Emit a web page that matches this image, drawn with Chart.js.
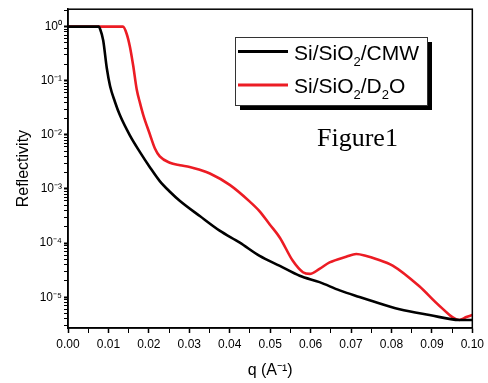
<!DOCTYPE html>
<html>
<head>
<meta charset="utf-8">
<script src="https://cdn.jsdelivr.net/npm/chart.js@4.4.0/dist/chart.umd.min.js"></script>
<style>
  html, body { margin: 0; padding: 0; background: #fff; }
  #wrap { width: 488px; height: 383px; }
</style>
</head>
<body>
<div id="wrap"><canvas id="refl" width="488" height="383"></canvas></div>
<script>
// Si/SiO2/CMW (black)
const qBlack = [0, 0.00765, 0.0079, 0.0087, 0.0096, 0.0104, 0.0116, 0.0128, 0.0153, 0.0178, 0.0202,
    0.0227, 0.0252, 0.0277, 0.0326, 0.0375, 0.0425, 0.0474, 0.0524, 0.0573, 0.0622, 0.0672, 0.0721,
    0.0746, 0.0820, 0.0894, 0.0968, 0.1];
const rBlack = [1, 1, 0.92, 0.56, 0.17, 0.08, 0.041, 0.0235, 9.8e-3, 4.8e-3, 2.56e-3,
    1.4e-3, 8.9e-4, 6.0e-4, 3.16e-4, 1.7e-4, 1.02e-4, 5.8e-5, 3.8e-5, 2.5e-5, 1.9e-5, 1.34e-5, 1.01e-5,
    8.8e-6, 6.0e-6, 4.7e-6, 3.8e-6, 3.8e-6];

// Si/SiO2/D2O (red)
const qRed = [0, 0.0136, 0.0145, 0.0153, 0.0161, 0.0170, 0.0178, 0.0186, 0.0202, 0.0215, 0.0227,
    0.0252, 0.0277, 0.0301, 0.0326, 0.0351, 0.0400, 0.0449, 0.0474, 0.0499, 0.0524, 0.0556, 0.0581,
    0.0598, 0.0622, 0.0647, 0.0688, 0.0713, 0.0738, 0.0762, 0.0803, 0.0869, 0.0919, 0.0968,
    0.0985, 0.1];
const rRed = [1, 1, 0.74, 0.43, 0.195, 0.069, 0.039, 0.0235, 0.0105, 5.6e-3, 4.0e-3,
    3.05e-3, 2.75e-3, 2.56e-3, 2.26e-3, 1.93e-3, 1.19e-3, 5.9e-4, 3.87e-4, 2.21e-4, 1.26e-4, 4.7e-5, 2.9e-5,
    2.7e-5, 3.34e-5, 4.4e-5, 5.6e-5, 6.3e-5, 5.8e-5, 5.1e-5, 3.84e-5, 1.59e-5, 6.9e-6, 3.8e-6,
    4.3e-6, 4.7e-6];

// axis ticks
const yDecades = [-6, -5, -4, -3, -2, -1, 0];
const yMinorSteps = [2, 3, 4, 5, 6, 7, 8, 9];
const yMin = 2.7e-6, yMax = 2.1;
const xMin = 0, xMax = 0.1, xStep = 0.005;

const seriesNames = [['Si/SiO', '2', '/CMW'], ['Si/SiO', '2', '/D', '2', 'O']];
const seriesColors = ['#000000', '#ec1c24'];

const sup = { '0': '\u2070', '1': '\u00b9', '2': '\u00b2', '3': '\u00b3', '4': '\u2074',
    '5': '\u2075', '6': '\u2076', '7': '\u2077', '8': '\u2078', '9': '\u2079', '-': '\u207b' };
const toSup = s => String(s).split('').map(c => sup[c] || c).join('');

const toPoints = (qs, rs) => qs.map((q, i) => ({ x: q, y: rs[i] }));

function isDecade(v) {
    const l = Math.log10(v);
    return Math.abs(l - Math.round(l)) < 1e-9;
}

// frame, legend and caption
const extras = {
    id: 'extras',
    afterDraw(chart) {
        const ctx = chart.ctx;
        const a = chart.chartArea;
        ctx.save();
        ctx.strokeStyle = '#000';
        ctx.lineWidth = 1.5;
        ctx.strokeRect(a.left, a.top, a.right - a.left, a.bottom - a.top);

        // legend box with drop shadow
        const bx = 235, by = 37, bw = 192, bh = 68;
        ctx.fillStyle = '#000';
        ctx.fillRect(bx + 5, by + 5, bw, bh);
        ctx.fillStyle = '#fff';
        ctx.fillRect(bx, by, bw, bh);
        ctx.strokeStyle = '#333';
        ctx.lineWidth = 1;
        ctx.strokeRect(bx + 0.5, by + 0.5, bw, bh);

        const rows = [51.5, 85];
        seriesNames.forEach((parts, i) => {
            const y = rows[i];
            ctx.strokeStyle = seriesColors[i];
            ctx.lineWidth = 3;
            ctx.beginPath();
            ctx.moveTo(238, y);
            ctx.lineTo(288, y);
            ctx.stroke();

            let x = 294;
            const base = y + 8;
            ctx.fillStyle = '#000';
            ctx.textBaseline = 'alphabetic';
            ctx.textAlign = 'left';
            parts.forEach((p, j) => {
                if (j % 2 === 1) {
                    ctx.font = '13px "Liberation Sans", Arial, sans-serif';
                    ctx.fillText(p, x, base + 6);
                } else {
                    ctx.font = '21px "Liberation Sans", Arial, sans-serif';
                    ctx.fillText(p, x, base);
                }
                x += ctx.measureText(p).width;
            });
        });

        ctx.font = '26px "Liberation Serif", "Times New Roman", serif';
        ctx.fillStyle = '#000';
        ctx.fillText('Figure1', 317, 146);
        ctx.restore();
    }
};

new Chart(document.getElementById('refl'), {
    type: 'line',
    data: {
        datasets: [
            {
                label: 'Si/SiO2/CMW',
                data: toPoints(qBlack, rBlack),
                borderColor: seriesColors[0],
                borderWidth: 2.6,
                pointRadius: 0,
                cubicInterpolationMode: 'monotone',
                fill: false
            },
            {
                label: 'Si/SiO2/D2O',
                data: toPoints(qRed, rRed),
                borderColor: seriesColors[1],
                borderWidth: 2.6,
                pointRadius: 0,
                cubicInterpolationMode: 'monotone',
                fill: false
            }
        ]
    },
    options: {
        responsive: false,
        animation: false,
        layout: { padding: { left: 0, right: 15, top: 5, bottom: 0 } },
        plugins: {
            legend: { display: false },
            tooltip: { enabled: false }
        },
        scales: {
            x: {
                type: 'linear',
                min: xMin,
                max: xMax,
                afterFit: s => { s.height = 55; },
                border: { color: '#000', width: 1.5 },
                grid: {
                    drawOnChartArea: false,
                    tickLength: 5,
                    tickColor: '#000',
                    tickWidth: c => (c.index % 2 === 0 ? 1.5 : 1)
                },
                ticks: {
                    stepSize: xStep,
                    autoSkip: false,
                    maxRotation: 0,
                    padding: 4,
                    color: '#000',
                    font: { family: '"Liberation Sans", Arial, sans-serif', size: 12 },
                    callback: (v, i) => (i % 2 === 0 ? Number(v).toFixed(2) : '')
                },
                title: {
                    display: true,
                    text: 'q (A' + toSup('-1') + ')',
                    color: '#000',
                    font: { family: '"Liberation Sans", Arial, sans-serif', size: 16 },
                    padding: { top: 0, bottom: 3 }
                }
            },
            y: {
                type: 'logarithmic',
                min: yMin,
                max: yMax,
                afterFit: s => { s.width = 68; },
                afterBuildTicks: s => {
                    const ticks = [];
                    yDecades.forEach(e => {
                        [1].concat(yMinorSteps).forEach(m => {
                            const v = Number((m * Math.pow(10, e)).toPrecision(6));
                            if (v >= yMin && v <= yMax) ticks.push({ value: v });
                        });
                    });
                    s.ticks = ticks;
                },
                border: { color: '#000', width: 1.5 },
                grid: {
                    drawOnChartArea: false,
                    tickLength: 4,
                    tickColor: '#000',
                    tickWidth: c => (c.tick && isDecade(c.tick.value) ? 2 : 1)
                },
                ticks: {
                    autoSkip: false,
                    padding: 2,
                    color: '#000',
                    font: { family: '"Liberation Sans", Arial, sans-serif', size: 12 },
                    callback: v => (isDecade(v) ? '10' + toSup(Math.round(Math.log10(v))) : '')
                },
                title: {
                    display: true,
                    text: 'Reflectivity',
                    color: '#000',
                    font: { family: '"Liberation Sans", Arial, sans-serif', size: 16 },
                    padding: { top: 14, bottom: 0 }
                }
            }
        }
    },
    plugins: [extras]
});
</script>
</body>
</html>
